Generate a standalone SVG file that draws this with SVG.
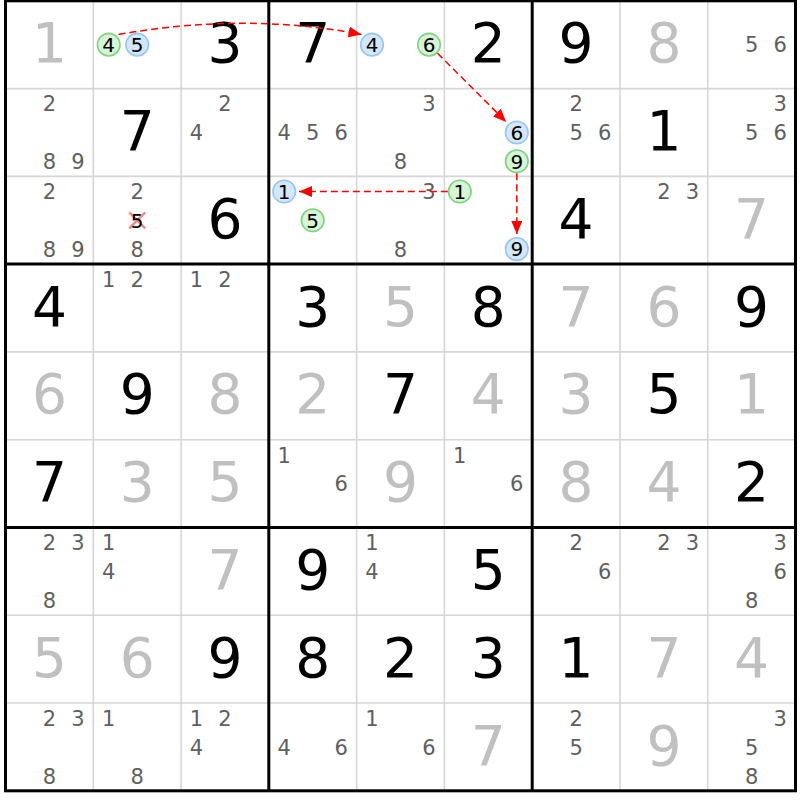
<svg xmlns="http://www.w3.org/2000/svg" width="800" height="800" viewBox="0 0 800 800">
<style>
.thin{stroke:#d6d6d6;stroke-width:1.6}
.thick{stroke:#000;stroke-width:3}
text{font-family:"DejaVu Sans","Liberation Sans",sans-serif;text-anchor:middle}
.g{font-size:55px;fill:#c0c0c0}
.b{font-size:55px;fill:#000}
.s{font-size:21px;fill:#5f5f5f}
.c{font-size:20px;fill:#000}
.cg{fill:#d6f5d6;stroke:#7fd37f;stroke-width:1.6}
.cb{fill:#d2e7fb;stroke:#97c6f2;stroke-width:1.6}
.arr{fill:none;stroke:#ff0000;stroke-width:1.5;stroke-dasharray:7 4;marker-end:url(#ah)}
.x{stroke:#f28a8a;stroke-width:2.5}
</style>
<defs>
<marker id="ah" markerUnits="userSpaceOnUse" markerWidth="13" markerHeight="11" refX="13" refY="5.5" orient="auto"><path d="M0,0 L13,5.5 L0,11 z" fill="#ff0000"/></marker>
</defs>
<rect width="800" height="800" fill="#fff"/>
<g id="grid">
<path class="thin" d="M93.3,0.8V790.8M181.1,0.8V790.8M356.6,0.8V790.8M444.4,0.8V790.8M620,0.8V790.8M707.7,0.8V790.8M5.5,88.6H795.5M5.5,176.4H795.5M5.5,351.9H795.5M5.5,439.7H795.5M5.5,615.3H795.5M5.5,703H795.5"/>
<path class="thick" d="M268.8,0.8V790.8M532.2,0.8V790.8M5.5,264.1H795.5M5.5,527.5H795.5"/>
<rect x="5.5" y="0.8" width="790" height="790" fill="none" stroke="#000" stroke-width="3"/>
</g>
<g id="row0">
<g id="r0c0"><text class="g" x="49.4" y="62.2">1</text></g>
<g id="r0c1"><circle class="cg" cx="108.7" cy="44.7" r="11.3"/><text class="c" x="108.7" y="52">4</text><circle class="cb" cx="137.2" cy="44.7" r="11.3"/><text class="c" x="137.2" y="52">5</text></g>
<g id="r0c2"><text class="b" x="225" y="62.2">3</text></g>
<g id="r0c3"><text class="b" x="312.7" y="62.2">7</text></g>
<g id="r0c4"><circle class="cb" cx="372" cy="44.7" r="11.3"/><text class="c" x="372" y="52">4</text><circle class="cg" cx="429" cy="44.7" r="11.3"/><text class="c" x="429" y="52">6</text></g>
<g id="r0c5"><text class="b" x="488.3" y="62.2">2</text></g>
<g id="r0c6"><text class="b" x="576.1" y="62.2">9</text></g>
<g id="r0c7"><text class="g" x="663.9" y="62.2">8</text></g>
<g id="r0c8"><text class="s" x="751.6" y="52.4">5</text><text class="s" x="780.1" y="52.4">6</text></g>
</g>
<g id="row1">
<g id="r1c0"><text class="s" x="49.4" y="111.4">2</text><text class="s" x="49.4" y="169">8</text><text class="s" x="77.9" y="169">9</text></g>
<g id="r1c1"><text class="b" x="137.2" y="150">7</text></g>
<g id="r1c2"><text class="s" x="225" y="111.4">2</text><text class="s" x="196.5" y="140.2">4</text></g>
<g id="r1c3"><text class="s" x="284.2" y="140.2">4</text><text class="s" x="312.7" y="140.2">5</text><text class="s" x="341.2" y="140.2">6</text></g>
<g id="r1c4"><text class="s" x="429" y="111.4">3</text><text class="s" x="400.5" y="169">8</text></g>
<g id="r1c5"><circle class="cb" cx="516.8" cy="132.5" r="11.3"/><text class="c" x="516.8" y="139.8">6</text><circle class="cg" cx="516.8" cy="161.3" r="11.3"/><text class="c" x="516.8" y="168.6">9</text></g>
<g id="r1c6"><text class="s" x="576.1" y="111.4">2</text><text class="s" x="576.1" y="140.2">5</text><text class="s" x="604.6" y="140.2">6</text></g>
<g id="r1c7"><text class="b" x="663.9" y="150">1</text></g>
<g id="r1c8"><text class="s" x="780.1" y="111.4">3</text><text class="s" x="751.6" y="140.2">5</text><text class="s" x="780.1" y="140.2">6</text></g>
</g>
<g id="row2">
<g id="r2c0"><text class="s" x="49.4" y="199.2">2</text><text class="s" x="49.4" y="256.8">8</text><text class="s" x="77.9" y="256.8">9</text></g>
<g id="r2c1"><text class="s" x="137.2" y="199.2">2</text><path class="x" d="M129.2,212.3L145.2,228.3M145.2,212.3L129.2,228.3"/><text class="c" x="137.2" y="227.6">5</text><text class="s" x="137.2" y="256.8">8</text></g>
<g id="r2c2"><text class="b" x="225" y="237.8">6</text></g>
<g id="r2c3"><circle class="cb" cx="284.2" cy="191.5" r="11.3"/><text class="c" x="284.2" y="198.8">1</text><circle class="cg" cx="312.7" cy="220.3" r="11.3"/><text class="c" x="312.7" y="227.6">5</text></g>
<g id="r2c4"><text class="s" x="429" y="199.2">3</text><text class="s" x="400.5" y="256.8">8</text></g>
<g id="r2c5"><circle class="cg" cx="459.8" cy="191.5" r="11.3"/><text class="c" x="459.8" y="198.8">1</text><circle class="cb" cx="516.8" cy="249.1" r="11.3"/><text class="c" x="516.8" y="256.4">9</text></g>
<g id="r2c6"><text class="b" x="576.1" y="237.8">4</text></g>
<g id="r2c7"><text class="s" x="663.9" y="199.2">2</text><text class="s" x="692.4" y="199.2">3</text></g>
<g id="r2c8"><text class="g" x="751.6" y="237.8">7</text></g>
</g>
<g id="row3">
<g id="r3c0"><text class="b" x="49.4" y="325.5">4</text></g>
<g id="r3c1"><text class="s" x="108.7" y="286.9">1</text><text class="s" x="137.2" y="286.9">2</text></g>
<g id="r3c2"><text class="s" x="196.5" y="286.9">1</text><text class="s" x="225" y="286.9">2</text></g>
<g id="r3c3"><text class="b" x="312.7" y="325.5">3</text></g>
<g id="r3c4"><text class="g" x="400.5" y="325.5">5</text></g>
<g id="r3c5"><text class="b" x="488.3" y="325.5">8</text></g>
<g id="r3c6"><text class="g" x="576.1" y="325.5">7</text></g>
<g id="r3c7"><text class="g" x="663.9" y="325.5">6</text></g>
<g id="r3c8"><text class="b" x="751.6" y="325.5">9</text></g>
</g>
<g id="row4">
<g id="r4c0"><text class="g" x="49.4" y="413.3">6</text></g>
<g id="r4c1"><text class="b" x="137.2" y="413.3">9</text></g>
<g id="r4c2"><text class="g" x="225" y="413.3">8</text></g>
<g id="r4c3"><text class="g" x="312.7" y="413.3">2</text></g>
<g id="r4c4"><text class="b" x="400.5" y="413.3">7</text></g>
<g id="r4c5"><text class="g" x="488.3" y="413.3">4</text></g>
<g id="r4c6"><text class="g" x="576.1" y="413.3">3</text></g>
<g id="r4c7"><text class="b" x="663.9" y="413.3">5</text></g>
<g id="r4c8"><text class="g" x="751.6" y="413.3">1</text></g>
</g>
<g id="row5">
<g id="r5c0"><text class="b" x="49.4" y="501.1">7</text></g>
<g id="r5c1"><text class="g" x="137.2" y="501.1">3</text></g>
<g id="r5c2"><text class="g" x="225" y="501.1">5</text></g>
<g id="r5c3"><text class="s" x="284.2" y="462.5">1</text><text class="s" x="341.2" y="491.3">6</text></g>
<g id="r5c4"><text class="g" x="400.5" y="501.1">9</text></g>
<g id="r5c5"><text class="s" x="459.8" y="462.5">1</text><text class="s" x="516.8" y="491.3">6</text></g>
<g id="r5c6"><text class="g" x="576.1" y="501.1">8</text></g>
<g id="r5c7"><text class="g" x="663.9" y="501.1">4</text></g>
<g id="r5c8"><text class="b" x="751.6" y="501.1">2</text></g>
</g>
<g id="row6">
<g id="r6c0"><text class="s" x="49.4" y="550.3">2</text><text class="s" x="77.9" y="550.3">3</text><text class="s" x="49.4" y="607.9">8</text></g>
<g id="r6c1"><text class="s" x="108.7" y="550.3">1</text><text class="s" x="108.7" y="579.1">4</text></g>
<g id="r6c2"><text class="g" x="225" y="588.9">7</text></g>
<g id="r6c3"><text class="b" x="312.7" y="588.9">9</text></g>
<g id="r6c4"><text class="s" x="372" y="550.3">1</text><text class="s" x="372" y="579.1">4</text></g>
<g id="r6c5"><text class="b" x="488.3" y="588.9">5</text></g>
<g id="r6c6"><text class="s" x="576.1" y="550.3">2</text><text class="s" x="604.6" y="579.1">6</text></g>
<g id="r6c7"><text class="s" x="663.9" y="550.3">2</text><text class="s" x="692.4" y="550.3">3</text></g>
<g id="r6c8"><text class="s" x="780.1" y="550.3">3</text><text class="s" x="780.1" y="579.1">6</text><text class="s" x="751.6" y="607.9">8</text></g>
</g>
<g id="row7">
<g id="r7c0"><text class="g" x="49.4" y="676.7">5</text></g>
<g id="r7c1"><text class="g" x="137.2" y="676.7">6</text></g>
<g id="r7c2"><text class="b" x="225" y="676.7">9</text></g>
<g id="r7c3"><text class="b" x="312.7" y="676.7">8</text></g>
<g id="r7c4"><text class="b" x="400.5" y="676.7">2</text></g>
<g id="r7c5"><text class="b" x="488.3" y="676.7">3</text></g>
<g id="r7c6"><text class="b" x="576.1" y="676.7">1</text></g>
<g id="r7c7"><text class="g" x="663.9" y="676.7">7</text></g>
<g id="r7c8"><text class="g" x="751.6" y="676.7">4</text></g>
</g>
<g id="row8">
<g id="r8c0"><text class="s" x="49.4" y="725.9">2</text><text class="s" x="77.9" y="725.9">3</text><text class="s" x="49.4" y="783.5">8</text></g>
<g id="r8c1"><text class="s" x="108.7" y="725.9">1</text><text class="s" x="137.2" y="783.5">8</text></g>
<g id="r8c2"><text class="s" x="196.5" y="725.9">1</text><text class="s" x="225" y="725.9">2</text><text class="s" x="196.5" y="754.7">4</text></g>
<g id="r8c3"><text class="s" x="284.2" y="754.7">4</text><text class="s" x="341.2" y="754.7">6</text></g>
<g id="r8c4"><text class="s" x="372" y="725.9">1</text><text class="s" x="429" y="754.7">6</text></g>
<g id="r8c5"><text class="g" x="488.3" y="764.5">7</text></g>
<g id="r8c6"><text class="s" x="576.1" y="725.9">2</text><text class="s" x="576.1" y="754.7">5</text></g>
<g id="r8c7"><text class="g" x="663.9" y="764.5">9</text></g>
<g id="r8c8"><text class="s" x="780.1" y="725.9">3</text><text class="s" x="751.6" y="754.7">5</text><text class="s" x="751.6" y="783.5">8</text></g>
</g>
<g id="connectors">
<path class="arr" d="M118.5,34.5 Q245,12 361.5,34.5"/>
<path class="arr" d="M437.5,53.2 L506.2,121.9"/>
<path class="arr" d="M516.8,173.3 L516.8,234"/>
<path class="arr" d="M447.8,191.5 L299,191.5"/>
</g>
</svg>
